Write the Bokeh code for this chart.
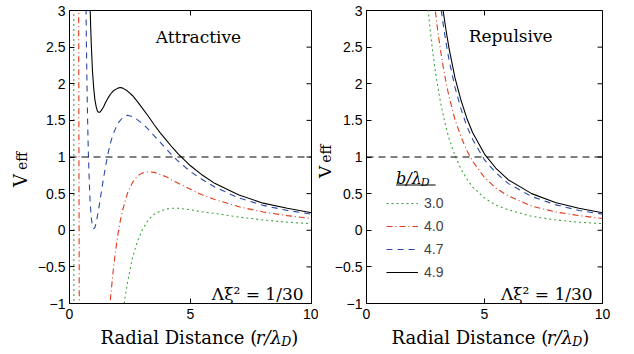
from bokeh.plotting import figure
from bokeh.layouts import row, column
from bokeh.models import (Range1d, FixedTicker, Label, Legend, Div,
                          LegendItem, Span, BoxAnnotation)
from bokeh.embed import file_html
from bokeh.resources import INLINE

# ---------------- data ----------------
b_labels = ["3.0", "4.0", "4.7", "4.9"]
x_ticks = [0, 5, 10]
y_ticks = [-1, -0.5, 0, 0.5, 1, 1.5, 2, 2.5, 3]
y_tick_labels = ["\u22121", "\u22120.5", "0", "0.5", "1", "1.5", "2", "2.5", "3"]
unity_level = 1.0

# Attractive panel
att_r_30 = [0.17, 0.175, 0.18, 0.19, 0.2, 0.3, 0.5, 1.0, 1.5, 2.0, 2.2, 2.3, 2.4, 2.6, 2.8,
            3.0, 3.25, 3.5, 3.75, 4.0, 4.25, 4.5, 5.0, 5.5, 6, 7, 8, 9, 10]
att_v_30 = [13.6, 6.1, -0.6, -11.8, -20.6, -48.2, -36.8, -13.07, -4.93, -1.81, -1.16, -0.91,
            -0.71, -0.38, -0.16, 0.00, 0.14, 0.22, 0.26, 0.29, 0.30, 0.30, 0.28, 0.25, 0.23,
            0.18, 0.14, 0.11, 0.09]

att_r_40 = [0.37, 0.38, 0.39, 0.40, 0.42, 0.45, 0.5, 1.0, 1.5, 1.6, 1.7, 1.8, 1.9, 2.0, 2.1,
            2.2, 2.4, 2.6, 2.8, 3.0, 3.25, 3.5, 3.75, 4.0, 4.25, 4.5, 5.0, 5.5, 6, 7, 8, 9, 10]
att_v_40 = [4.86, 2.8, 1.03, -0.5, -3.16, -6.0, -8.78, -6.07, -1.81, -1.32, -0.91, -0.57,
            -0.29, -0.06, 0.13, 0.28, 0.51, 0.65, 0.74, 0.78, 0.80, 0.79, 0.76, 0.73, 0.68,
            0.64, 0.56, 0.48, 0.42, 0.32, 0.25, 0.20, 0.16]

att_r_47 = [0.6, 0.65, 0.7, 0.725, 0.75, 0.775, 0.8, 0.85, 0.9, 0.95, 1.0, 1.05, 1.1, 1.2,
            1.3, 1.4, 1.5, 1.6, 1.7, 1.8, 2.0, 2.2, 2.4, 2.6, 2.8, 3.0, 3.25, 3.5, 3.75,
            4.0, 4.25, 4.5, 5.0, 5.5, 6, 7, 8, 9, 10]
att_v_47 = [6.48, 4.09, 2.52, 1.94, 1.48, 1.11, 0.82, 0.40, 0.17, 0.05, 0.02, 0.04, 0.10,
            0.28, 0.49, 0.70, 0.89, 1.06, 1.20, 1.31, 1.46, 1.54, 1.57, 1.55, 1.51, 1.46,
            1.38, 1.29, 1.20, 1.11, 1.02, 0.94, 0.80, 0.69, 0.59, 0.44, 0.34, 0.27, 0.22]

att_r_49 = [0.7, 0.75, 0.8, 0.85, 0.875, 0.9, 0.95, 1.0, 1.05, 1.1, 1.15, 1.2, 1.25, 1.3,
            1.4, 1.5, 1.6, 1.7, 1.8, 2.0, 2.1, 2.2, 2.4, 2.6, 2.8, 3.0, 3.25, 3.5, 3.75,
            4.0, 4.25, 4.5, 5.0, 5.5, 6, 7, 8, 9, 10]
att_v_49 = [6.44, 4.89, 3.82, 3.06, 2.78, 2.54, 2.17, 1.94, 1.78, 1.69, 1.63, 1.61, 1.61,
            1.63, 1.68, 1.75, 1.81, 1.86, 1.90, 1.94, 1.95, 1.94, 1.90, 1.84, 1.76, 1.67,
            1.56, 1.44, 1.33, 1.23, 1.13, 1.04, 0.88, 0.75, 0.64, 0.48, 0.37, 0.30, 0.24]

# Repulsive panel
rep_r_30 = [2.4, 2.6, 2.7, 2.8, 2.9, 3.0, 3.125, 3.25, 3.375, 3.5, 3.75, 4.0, 4.25, 4.5,
            5.0, 5.5, 6, 7, 8, 9, 10]
rep_v_30 = [3.83, 3.05, 2.73, 2.45, 2.21, 2.00, 1.77, 1.57, 1.40, 1.25, 1.02, 0.84, 0.70,
            0.59, 0.44, 0.34, 0.28, 0.19, 0.14, 0.11, 0.09]

rep_r_40 = [2.8, 2.9, 3.0, 3.125, 3.25, 3.375, 3.5, 3.75, 4.0, 4.25, 4.5, 5.0, 5.5, 6, 7,
            8, 9, 10]
rep_v_40 = [3.34, 3.04, 2.77, 2.48, 2.23, 2.01, 1.82, 1.51, 1.28, 1.09, 0.94, 0.72, 0.57,
            0.47, 0.33, 0.25, 0.20, 0.16]

rep_r_47 = [3.0, 3.125, 3.25, 3.375, 3.5, 3.75, 4.0, 4.25, 4.5, 5.0, 5.5, 6, 7, 8, 9, 10]
rep_v_47 = [3.45, 3.11, 2.81, 2.55, 2.32, 1.95, 1.66, 1.42, 1.24, 0.96, 0.78, 0.64, 0.46,
            0.35, 0.27, 0.22]

rep_r_49 = [3.0, 3.125, 3.25, 3.375, 3.5, 3.75, 4.0, 4.25, 4.5, 5.0, 5.5, 6, 7, 8, 9, 10]
rep_v_49 = [3.66, 3.30, 2.99, 2.72, 2.48, 2.08, 1.78, 1.53, 1.33, 1.04, 0.84, 0.69, 0.50,
            0.38, 0.30, 0.24]

# ---------------- styling / layout ----------------
colors = ["#3fa23f", "#e3391c", "#2a49a6", "#000000"]
dashes = ["2 3", "6 3 1 3", "6 5", "solid"]
SERIF = "DejaVu Serif"
SANS = "Liberation Sans"
TOTAL_W, TOTAL_H = 634, 354
PANEL_H = 324            # height of the row holding the two panels
STRIP_H = TOTAL_H - PANEL_H
TOP = 10
FH = 293                 # frame height
TICK = 5

VS1_W = 34               # strip with left y label
P1_X, P1_W, F1_L, F1_W = 34, 284, 68, 243
VS2_X, VS2_W = 318, 13   # strip with right y label
P2_X, P2_W, F2_L, F2_W = 331, 303, 363, 239


def make_fig(x0, width, frame_left, frame_w):
    left = frame_left - x0
    p = figure(width=width, height=PANEL_H, x_range=Range1d(0, 10), y_range=Range1d(-1, 3),
               output_backend="svg", toolbar_location=None,
               min_border_left=left, min_border_right=width - left - frame_w,
               min_border_top=TOP, min_border_bottom=PANEL_H - TOP - FH)
    p.xgrid.visible = False
    p.ygrid.visible = False
    p.outline_line_color = "black"
    p.outline_line_width = 1
    p.background_fill_color = "white"
    p.border_fill_color = "white"
    overrides = {v: s for v, s in zip(y_ticks, y_tick_labels)}
    for ax in p.xaxis:
        ax.ticker = FixedTicker(ticks=x_ticks)
    for ax in p.yaxis:
        ax.ticker = FixedTicker(ticks=y_ticks)
        ax.major_label_overrides = overrides
    for ax in p.xaxis + p.yaxis:
        ax.axis_line_color = "black"
        ax.major_tick_line_color = "black"
        ax.major_tick_in = TICK
        ax.major_tick_out = 0
        ax.minor_tick_line_color = None
        ax.major_label_text_font = SANS
        ax.major_label_text_font_size = "14px"
        ax.major_label_text_color = "black"
    p.xaxis.major_label_standoff = 5
    p.yaxis.major_label_standoff = 4
    # mirrored inward ticks on the right and top edges, derived from the tick lists
    dx_t = TICK / frame_w * 10.0
    dy_t = TICK / FH * 4.0
    p.segment(x0=[10.0] * len(y_ticks), y0=y_ticks, x1=[10.0 - dx_t] * len(y_ticks),
              y1=y_ticks, line_color="black", line_width=1)
    p.segment(x0=x_ticks, y0=[3.0] * len(x_ticks), x1=x_ticks,
              y1=[3.0 - dy_t] * len(x_ticks), line_color="black", line_width=1)
    p.add_layout(Span(location=unity_level, dimension="width", line_color="black",
                      line_dash="7 5", line_width=1))
    return p


def conv(frame_left, frame_w):
    fx = lambda cx: (cx - frame_left) / frame_w * 10.0
    fy = lambda cy: 3.0 - (cy - TOP) / FH * 4.0
    return fx, fy


def label(p, x, y, text, size, font=SERIF, style="normal", align="left"):
    p.add_layout(Label(x=x, y=y, text=text, text_font=font, text_font_size=f"{size}px",
                       text_font_style=style, text_align=align,
                       text_baseline="alphabetic", text_color="black"))


def strip(width, height):
    s = figure(width=width, height=height, x_range=Range1d(0, width),
               y_range=Range1d(0, height), output_backend="svg", toolbar_location=None,
               x_axis_location=None, y_axis_location=None, min_border=0)
    s.xgrid.visible = False
    s.ygrid.visible = False
    s.outline_line_color = None
    s.background_fill_color = "white"
    s.border_fill_color = "white"
    return s


def ylabel_div(width, baseline_x, start_y, vsize, esize, gap):
    # rotated "V_eff" (reads bottom to top); baseline offset inside a line box of line-height 1
    base_off = (1 - 1.164) / 2 * vsize + 0.928 * vsize
    left = baseline_x - base_off
    html = (f'<div style="position:relative;width:{width}px;height:{PANEL_H}px;'
            f'background:white;">'
            f'<span style="position:absolute;left:{left:.1f}px;top:{start_y}px;'
            f'transform-origin:0 0;transform:rotate(-90deg);white-space:nowrap;'
            f'line-height:1;font-family:\'{SERIF}\';font-size:{vsize}px;color:black;">'
            f'V<span style="font-size:{esize}px;margin-left:{gap}px;">eff</span></span></div>')
    return Div(text=html, width=width, height=PANEL_H, margin=0)


# ---------------- left: attractive ----------------
p1 = make_fig(P1_X, P1_W, F1_L, F1_W)
fx1, fy1 = conv(F1_L, F1_W)
att = [(att_r_30, att_v_30), (att_r_40, att_v_40), (att_r_47, att_v_47), (att_r_49, att_v_49)]
for (r, v), c, d in zip(att, colors, dashes):
    p1.line(r, v, line_color=c, line_dash=d, line_width=1.1)
label(p1, fx1(197.5), fy1(36.5), "Attractive", 17, align="center")
label(p1, fx1(303), fy1(293), "\u039b\u03be\u00b2 = 1/30", 17, align="right")

# ---------------- right: repulsive ----------------
p2 = make_fig(P2_X, P2_W, F2_L, F2_W)
fx2, fy2 = conv(F2_L, F2_W)
rep = [(rep_r_30, rep_v_30), (rep_r_40, rep_v_40), (rep_r_47, rep_v_47), (rep_r_49, rep_v_49)]
items = []
for (r, v), c, d, lab in zip(rep, colors, dashes, b_labels):
    rr = p2.line(r, v, line_color=c, line_dash=d, line_width=1.1)
    items.append(LegendItem(label=lab, renderers=[rr]))
label(p2, fx2(509), fy2(35.5), "Repulsive", 17, align="center")
label(p2, fx2(592), fy2(293), "\u039b\u03be\u00b2 = 1/30", 17, align="right")

legend = Legend(items=items, location=(20, 21), padding=0, margin=0, spacing=3,
                glyph_height=20, glyph_width=32, label_height=20, label_standoff=6,
                label_text_font=SANS, label_text_font_size="14px",
                border_line_color=None, background_fill_alpha=0)
p2.add_layout(legend)
label(p2, fx2(393), fy2(178), "b/\u03bb", 16, style="italic")
label(p2, fx2(418), fy2(182), "D", 11, style="italic")
p2.add_layout(BoxAnnotation(left=fx2(393), right=fx2(433), bottom=fy2(185), top=fy2(184),
                            fill_color="black", fill_alpha=1, line_color=None))

# ---------------- y-label strips (V_eff) ----------------
vs1 = ylabel_div(VS1_W, 27, 187, 18, 14, 4)
vs2 = ylabel_div(VS2_W, 331 - VS2_X, 178, 17, 14, 3)

# ---------------- x-label strip ----------------
xs = strip(TOTAL_W, STRIP_H)


def xlabel(start):
    base = STRIP_H - (336.5 - PANEL_H)
    label(xs, start, base, "Radial Distance (", 18)
    label(xs, start + 155.3, base, "r/\u03bb", 18, style="italic")
    label(xs, start + 180.8, base - 4, "D", 12.5, style="italic")
    label(xs, start + 190.8, base, ")", 18)


xlabel(100)
xlabel(391)

layout = column(row(vs1, p1, vs2, p2), xs)
open("out.html", "w").write(file_html(layout, INLINE))
